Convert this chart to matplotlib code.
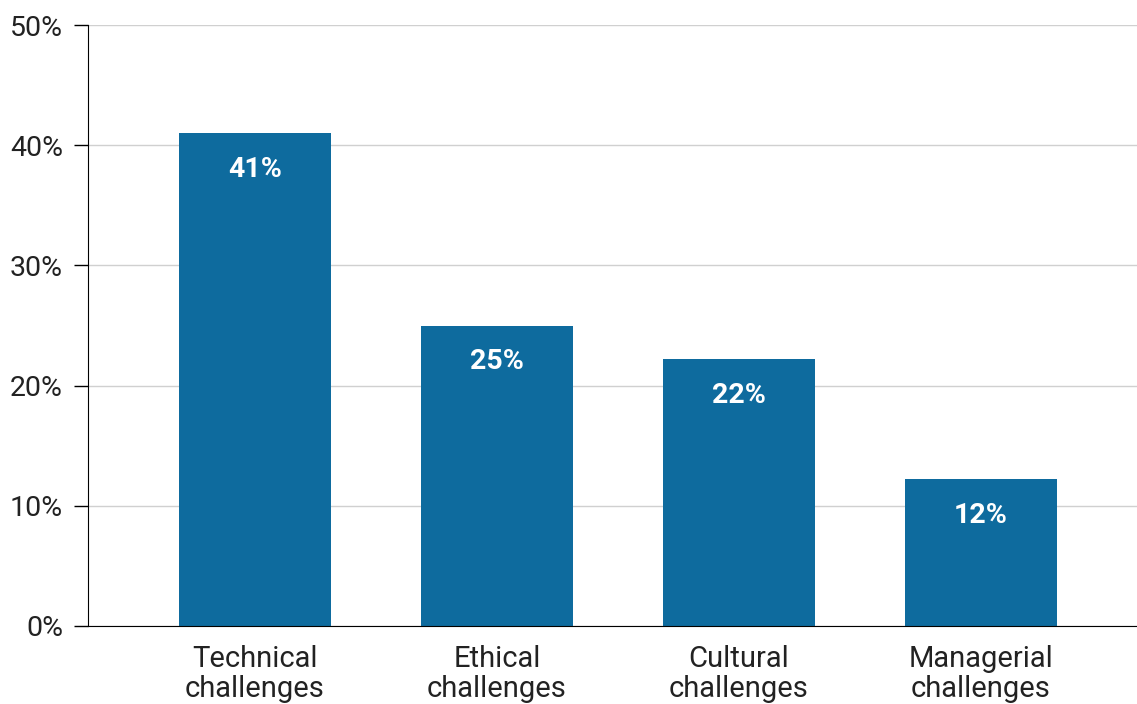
import matplotlib.pyplot as plt

# data
categories = ['Technical\nchallenges', 'Ethical\nchallenges', 'Cultural\nchallenges', 'Managerial\nchallenges']
shares = [41.0, 25.0, 22.2, 12.2]
y_ticks = [0, 10, 20, 30, 40, 50]

BAR_COLOR = '#0e6b9e'
TEXT_COLOR = '#222222'

plt.rcParams['font.family'] = ['Roboto', 'DejaVu Sans']

fig = plt.figure(figsize=(11.37, 7.04), dpi=100)
ax = fig.add_axes([88 / 1137, 1 - 626 / 704, 1 - 88 / 1137, (626 - 25) / 704])

x = list(range(len(categories)))
bars = ax.bar(x, shares, width=0.628, color=BAR_COLOR, zorder=2)

for xi, v in zip(x, shares):
    ax.annotate(f"{v:.0f}%", (xi, v), xytext=(0, -36), textcoords='offset pixels',
                ha='center', va='center', color='white', fontsize=20.5, fontweight='bold')

ax.set_xlim(-0.69, 3.645)
ax.set_ylim(0, 50)
ax.set_yticks(y_ticks)
ax.set_yticklabels([f"{t}%" for t in y_ticks])
ax.set_xticks(x)
ax.set_xticklabels(categories, linespacing=1.05)

ax.grid(axis='y', color='#d0d0d0', linewidth=1, zorder=0)
ax.spines['top'].set_visible(False)
ax.spines['right'].set_visible(False)
ax.spines['left'].set_color('black')
ax.spines['bottom'].set_color('black')
ax.tick_params(axis='y', length=10, width=1, labelsize=20.5, labelcolor=TEXT_COLOR, pad=8)
ax.tick_params(axis='x', length=0, labelsize=21, labelcolor=TEXT_COLOR, pad=14)

fig.savefig('out.png', dpi=100)
